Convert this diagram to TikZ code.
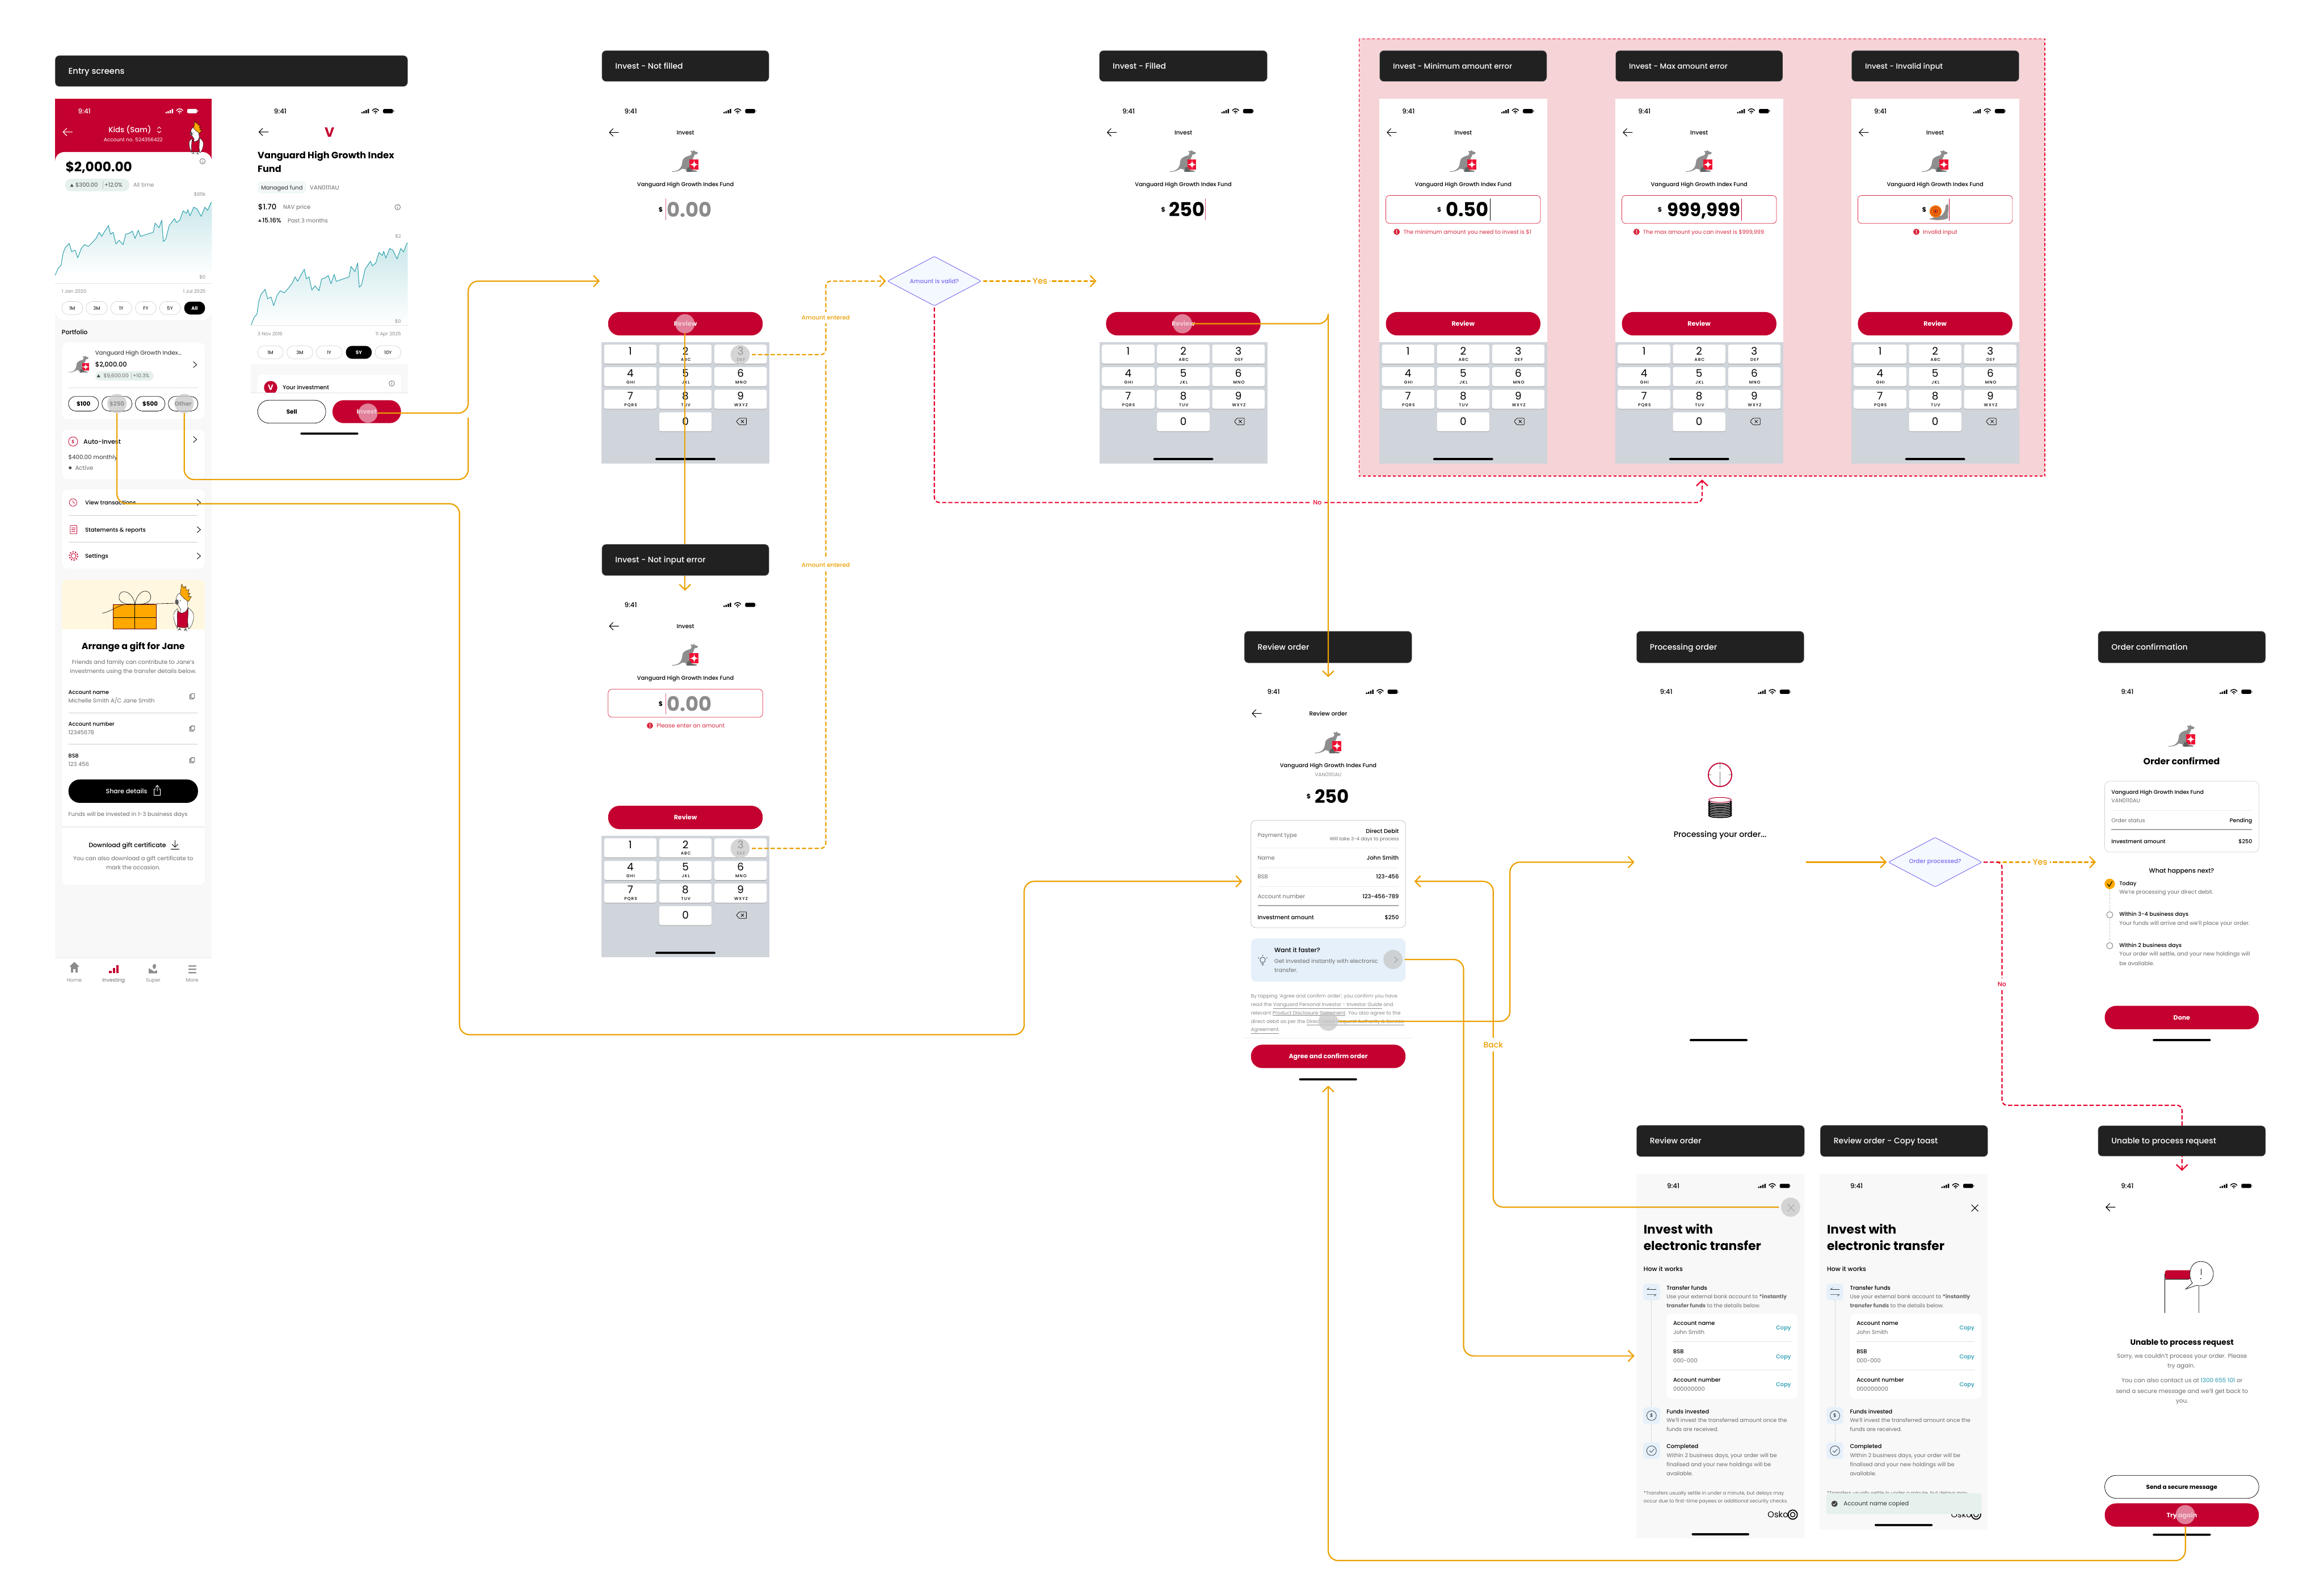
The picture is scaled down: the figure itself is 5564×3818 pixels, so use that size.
\documentclass[tikz,border=0pt]{standalone}
\usepackage{fontspec}
\usetikzlibrary{arrows.meta,shapes.geometric}
\setmainfont{Poppins}
\newfontface\medf{Poppins Medium}
\definecolor{hdrc}{HTML}{212121}
\definecolor{brandred}{HTML}{C3002F}
\definecolor{orng}{HTML}{EBA000}
\definecolor{dred}{HTML}{E8002D}
\definecolor{gtx}{HTML}{6A6A6A}
\definecolor{ltx}{HTML}{8A8A8A}
\definecolor{kbd}{HTML}{D0D4DB}
\definecolor{pinkbg}{HTML}{F5D3D6}
\definecolor{purp}{HTML}{7B6CF0}
\definecolor{diaf}{HTML}{F4F8FF}
\definecolor{tealc}{HTML}{1F97B0}
\definecolor{chartc}{HTML}{2BA0AC}
\definecolor{scrbg}{HTML}{F8F8F8}
\definecolor{errc}{HTML}{D8293F}
\definecolor{pillg}{HTML}{E6F1EE}
\definecolor{bluebx}{HTML}{E5F0FA}
\definecolor{roog}{HTML}{8E8E8E}
\definecolor{roor}{HTML}{EE1133}
\definecolor{rule}{HTML}{E4E4E4}
\definecolor{giftbg}{HTML}{FFF7DF}
\definecolor{cresto}{HTML}{FFA800}
\newcount\tcnt
\tikzset{
 tbase/.style={inner sep=0pt,outer sep=0pt,anchor=center,text=black},
 fs/.style={node font=\fontsize{#1}{#1}\selectfont,text height={#1*0.92},text depth={#1*0.2}},
 md/.style={font=\medf},
 bd/.style={font=\bfseries},
 lf/.style={anchor=west},
 rt/.style={anchor=east},
 gy/.style={text=gtx},
 lg/.style={text=ltx},
 hdrbox/.style={fill=hdrc,draw=gray!70,line width=.6pt,rounded corners=10pt,anchor=north west,inner sep=0pt,outer sep=0pt},
 tap/.style={circle,minimum size=46pt,inner sep=0pt,outer sep=0pt,fill=black!22,fill opacity=.75},
 tapr/.style={circle,minimum size=46pt,inner sep=0pt,outer sep=0pt,fill=white!70!brandred,fill opacity=.72},
 conn/.style={draw=orng,line width=3pt,rounded corners=24pt,-{Straight Barb[length=13pt,width=27pt,line width=3pt]}},
 connp/.style={draw=orng,line width=3pt,rounded corners=24pt},
 dconn/.style={draw=orng,line width=3pt,rounded corners=12pt,dash pattern=on 10pt off 5pt,-{Straight Barb[length=13pt,width=27pt,line width=3pt]}},
 dconnp/.style={draw=orng,line width=3pt,rounded corners=12pt,dash pattern=on 10pt off 5pt},
 rconn/.style={draw=dred,line width=3pt,rounded corners=12pt,dash pattern=on 10pt off 5pt,-{Straight Barb[length=13pt,width=27pt,line width=3pt]}},
 dia/.style={diamond,draw=purp,fill=diaf,line width=1.3pt,inner sep=0pt,outer sep=0pt,minimum width=224pt,minimum height=118pt,shape aspect=1.9,text=purp,rounded corners=3pt},
 lab/.style={fill=white,inner xsep=6pt,inner ysep=6pt,text=orng},
 ico/.style={line width=1.3pt,line cap=round,line join=round},
}
\newcommand\Tt[4][]{\global\advance\tcnt by 1 \node[tbase,#1] (t\the\tcnt) at ({#2},{#3}) {#4};}
\newcommand\Hdr[6][19]{\global\advance\tcnt by 1
 \node[hdrbox,minimum width={#4-#2},minimum height={#5-#3}] (h\the\tcnt) at (#2,#3) {};
 \Tt[fs=#1,md,lf,text=white]{#2+32}{(#3+#5)/2}{#6}}
\newcommand\Stat[4][black]{\Tt[fs=16,md,text=#1]{#2}{#3}{9:41}
 \begin{scope}[shift={(#4,#3)}]
  \fill[#1] (0,2) rectangle (3.4,5) (5,0) rectangle (8.4,5) (10,-2.5) rectangle (13.4,5) (15,-5) rectangle (18.4,5);
  \draw[#1,line width=2pt] (26,-1) .. controls (30,-7) and (38,-7) .. (42,-1) (29.5,2) .. controls (32,-1) and (36,-1) .. (38.5,2);
  \fill[#1] (34,4.5) circle (1.8);
  \fill[#1,rounded corners=3pt] (52,-5) rectangle (76,5);
  \fill[#1!50!white] (77,-2) rectangle (78.5,2);
 \end{scope}}
\newcommand\Back[3][black]{\begin{scope}[shift={(#2,#3)}]\draw[#1,ico,line width=1.5pt] (11,0) -- (-11,0) (-2,-9) -- (-11,0) -- (-2,9);\end{scope}}
\newcommand\Chev[2]{\draw[black,ico,line width=1.2pt] (#1-4,#2-7) -- (#1+4,#2) -- (#1-4,#2+7);}
\newcommand\Info[2]{\begin{scope}[shift={(#1,#2)}]\draw[gtx,line width=1.1pt] (0,0) circle (6.5);\draw[gtx,line width=1.2pt] (0,-.5) -- (0,3.5);\fill[gtx] (0,-3) circle (.8);\end{scope}}
\newcommand\Copyic[2]{\begin{scope}[shift={(#1,#2)}]\draw[black!80,line width=1pt,rounded corners=1pt] (-3,-6) rectangle (6,4);\draw[black!80,line width=1pt,rounded corners=1pt] (-3,-3.5) -- (-6,-3.5) -- (-6,6.5) -- (3,6.5) -- (3,4);\end{scope}}
\newcommand\Roo[3]{\begin{scope}[shift={(#1,#2)},scale=#3]
 \fill[roog] (-32,23) .. controls (-24,23) and (-18,21) .. (-14,17) .. controls (-9,12) and (-8,6) .. (-7,-3) .. controls (-5,-9) and (2,-13) .. (12,-15) -- (15,-20) -- (12,-26) -- (18,-25) -- (20,-28) -- (22,-25) -- (30,-22) -- (28,-18) -- (22,-17) -- (18,-7) -- (14,-3) -- (14,16) -- (3,24) -- (0,18) -- (-8,17) .. controls (-12,21) and (-20,24) .. (-32,24.5) -- cycle;
 \fill[roor] (10,-5) rectangle (31,19);
 \fill[white] (21,-5) .. controls (21,3) and (23,6) .. (31,7) .. controls (23,8) and (21,11) .. (21,19) .. controls (21,11) and (19,8) .. (10,7) .. controls (19,6) and (21,3) .. (21,-5) -- cycle;
 \fill[roog!70!black] (5,14) -- (12,14) -- (15,20) -- (27,22) -- (27,24) -- (3,24.5) -- cycle;
 \end{scope}}
\newcommand\Cocka[3]{\begin{scope}[shift={(#1,#2)},scale=#3]
 \draw[black,line width=.6pt,fill=white] (-10.7,1.7) .. controls (-16,6) and (-18,10) .. (-17.4,14) .. controls (-17,22) and (-14,30) .. (-11,35) -- (-8,20) -- cycle;
 \draw[black,line width=.6pt,fill=white] (7,0) .. controls (14,4) and (17,9) .. (16.7,14) .. controls (17,22) and (14,32) .. (8.3,36) -- (6,20) -- cycle;
 \draw[black,line width=.6pt,fill=white] (-5,3) .. controls (-9,-3) and (-13,-8) .. (-13,-14) .. controls (-13,-22) and (-8,-26) .. (-3,-26) .. controls (3,-26) and (6,-18) .. (7,0) -- (6,12) -- (-7,12) -- cycle;
 \draw[black,line width=.6pt,fill=cresto] (-6,-22.6) -- (-4.8,-33) -- (-3.6,-40.5) -- (0,-34) -- (3,-37) -- (4.3,-30) -- (9,-31) -- (7,-24) -- (10.7,-25) -- (8,-19) -- (13,-19) -- (8,-10.7) -- (1,-15.5) -- cycle;
 \draw[black,line width=.6pt,fill=brandred] (-10,5) .. controls (-8,9) and (-3,10) .. (-1,8.5) .. controls (3,8) and (6,4) .. (7,0) .. controls (8,10) and (6,25) .. (6.7,33) .. controls (1,35) and (-6,34) .. (-11.4,32) .. controls (-11,22) and (-12,12) .. (-10,5) -- cycle;
 \fill[black!65] (-15,-11) .. controls (-14,-15) and (-11,-15) .. (-9.5,-13) .. controls (-8,-8) and (-9,-5) .. (-12,-5) .. controls (-14,-7) and (-15,-8) .. (-15,-11) -- cycle;
 \fill[black] (-6,-12) circle (.8);
 \fill[black!65] (-11.4,40) -- (-7,34) -- (-4,39) -- (-6.5,37.5) -- (-9,38) -- cycle (0,40) -- (3,34) -- (6.4,41) -- (3.5,38) -- cycle;
 \end{scope}}
\newcommand\Btn[5]{\path[fill=brandred,rounded corners=27pt] (#1,#2) rectangle (#3,#4);\Tt[fs=15,bd,text=white]{(#1+#3)/2}{(#2+#4)/2}{#5}}
\newcommand\OBtn[6]{\path[draw=black,line width=1pt,fill=white,rounded corners=#5] (#1,#2) rectangle (#3,#4);\Tt[fs=14,bd]{(#1+#3)/2}{(#2+#4)/2}{#6}}
\newcommand\Home[3]{\fill[black,rounded corners=2pt] (#1,#3-2.5) rectangle (#2,#3+2.5);}
\newcommand\KeyPad{%
 \fill[kbd] (0,583) rectangle (402,874);
 \foreach \cx/\ry/\d/\l in {0/0/1/{},1/0/2/ABC,2/0/3/DEF,0/1/4/GHI,1/1/5/JKL,2/1/6/MNO,0/2/7/PQRS,1/2/8/TUV,2/2/9/WXYZ}{%
  \pgfmathsetmacro\kx{6+132*\cx}\pgfmathsetmacro\ky{589+54*\ry}
  \fill[black!45,rounded corners=5pt] (\kx,\ky+1) rectangle (\kx+126,\ky+47);
  \fill[white,rounded corners=5pt] (\kx,\ky) rectangle (\kx+126,\ky+46);
  \Tt[fs=25]{\kx+63}{\ky+15}{\d}
  \Tt[fs=10,md]{\kx+64}{\ky+36}{\addfontfeatures{LetterSpace=14}\l}
 }
 \fill[black!45,rounded corners=5pt] (138,752) rectangle (264,798);
 \fill[white,rounded corners=5pt] (138,751) rectangle (264,797);
 \Tt[fs=25]{201}{773}{0}
 \begin{scope}[shift={(335,773)}]\draw[black,line width=1pt,rounded corners=1.5pt,line join=round] (-12,0) -- (-5,-8) -- (12,-8) -- (12,8) -- (-5,8) -- cycle;\draw[black,line width=1pt] (-1,-3.5) -- (6,3.5) (6,-3.5) -- (-1,3.5);\end{scope}
 \Home{129}{273}{863}
}
\newcommand\InvScr[3]{\begin{scope}[shift={(#1,#2)}]
 \ifx#31\fill[white] (0,0) rectangle (402,874);\fi
 \Stat{70}{30}{292}
 \Back{30}{81}
 \Tt[fs=14,md]{201}{81}{Invest}
 \Roo{201}{151}{1}
 \Tt[fs=13.4,md]{201}{205}{Vanguard High Growth Index Fund}
 \Btn{16}{511}{386}{567}{Review}
 \KeyPad
 \end{scope}}
\newcommand\Field{\path[draw=errc,line width=1pt,fill=white,rounded corners=9pt] (16,232) rectangle (386,299);}
\newcommand\ErrIc[2]{\begin{scope}[shift={(#1,#2)}]\fill[errc] (0,0) circle (7.5);\fill[white] (-1,-5) rectangle (1,1.5);\fill[white] (0,3.8) circle (1.2);\end{scope}}
\newcommand\chartpath{(0,0) -- (12,-24) -- (22,-32) -- (30,-72) -- (38,-90) -- (53,-104) -- (62,-77) -- (75,-82) -- (85,-57) -- (98,-87) -- (110,-100) -- (125,-94) -- (140,-107) -- (155,-122) -- (165,-140) -- (175,-127) -- (185,-142) -- (200,-162) -- (208,-134) -- (218,-140) -- (228,-102) -- (240,-114) -- (255,-100) -- (265,-134) -- (278,-137) -- (290,-144) -- (300,-120) -- (312,-147) -- (320,-127) -- (345,-134) -- (368,-140) -- (375,-170) -- (390,-155) -- (400,-180) -- (406,-110) -- (415,-117) -- (428,-162) -- (448,-185) -- (455,-172) -- (468,-180) -- (480,-210) -- (493,-202) -- (498,-214) -- (506,-194) -- (520,-222) -- (532,-217) -- (548,-192) -- (562,-222) -- (572,-212) -- (585,-237) -- (588,-237)}
\newcommand\ChartG[3]{\begin{scope}[shift={(#1,#2)},xscale=.638,yscale=#3]
 \path[shade,top color=chartc!25!white,bottom color=white] \chartpath -- (588,0) -- cycle;
 \draw[chartc,line width=1.4pt,line join=round] \chartpath;
 \end{scope}}
\newcommand\XferScr[1]{\begin{scope}[shift={(#1,0)}]
 \fill[scrbg] (0,2810) rectangle (402,\xfb);
 \Stat{88}{2839}{291}
 \Tt[fs=29.5,bd,lf]{17}{2943}{Invest with}
 \Tt[fs=29.5,bd,lf]{17}{2982}{electronic transfer}
 \Tt[fs=15,md,lf]{17}{3038}{How it works}
 \draw[black!30,line width=1.2pt,dotted] (36,3113) -- (36,3369) (36,3409) -- (36,3453);
 \fill[bluebx,rounded corners=8pt] (16,3073) rectangle (56,3113) (16,3369) rectangle (56,3409) (16,3453) rectangle (56,3493);
 \draw[black!80,line width=.9pt] (25,3087) -- (47,3087) (25,3087) -- (30,3083) (25,3099) -- (47,3099) (47,3099) -- (42,3103);
 \draw[black!80,line width=1pt] (36,3389) circle (11.5);
 \Tt[fs=11]{36}{3389}{\$}
 \draw[black!80,line width=1pt] (36,3473) circle (11.5);
 \draw[black!80,line width=1pt] (31,3473) -- (35,3477) -- (42,3469);
 \Tt[fs=13.4,md,lf]{72}{3083}{Transfer funds}
 \Tt[fs=12.8,lf,gy]{72}{3104}{Use your external bank account to \textbf{*instantly}}
 \Tt[fs=12.8,lf,gy]{72}{3126}{\textbf{transfer funds} to the details below.}
 \fill[white,rounded corners=12pt] (72,3145) rectangle (386,3349);
 \Tt[fs=13.4,md,lf]{88}{3168}{Account name}
 \Tt[fs=13.4,lf,gy]{88}{3189}{John Smith}
 \Tt[fs=13.4,md,rt,text=tealc]{370}{3179}{Copy}
 \draw[rule,line width=.8pt] (88,3212) -- (370,3212);
 \Tt[fs=13.4,md,lf]{88}{3236}{BSB}
 \Tt[fs=13.4,lf,gy]{88}{3257}{000-000}
 \Tt[fs=13.4,md,rt,text=tealc]{370}{3248}{Copy}
 \draw[rule,line width=.8pt] (88,3280) -- (370,3280);
 \Tt[fs=13.4,md,lf]{88}{3304}{Account number}
 \Tt[fs=13.4,lf,gy]{88}{3325}{000000000}
 \Tt[fs=13.4,md,rt,text=tealc]{370}{3315}{Copy}
 \Tt[fs=13.4,md,lf]{72}{3379}{Funds invested}
 \Tt[fs=13,lf,gy]{72}{3400}{We'll invest the transferred amount once the}
 \Tt[fs=13,lf,gy]{72}{3422}{funds are received.}
 \Tt[fs=13.4,md,lf]{72}{3463}{Completed}
 \Tt[fs=13,lf,gy]{72}{3484}{Within 2 business days, your order will be}
 \Tt[fs=13,lf,gy]{72}{3506}{finalised and your new holdings will be}
 \Tt[fs=13,lf,gy]{72}{3528}{available.}
 \Tt[fs=11.5,lf,gy]{17}{3574}{*Transfers usually settle in under a minute, but delays may}
 \Tt[fs=20,lf]{314}{3626}{Osko}
 \draw[black,line width=2.4pt] (374,3626) circle (11);
 \draw[black,line width=1.8pt] (374,3626) circle (5.5);
 \end{scope}}
\begin{document}
\begin{tikzpicture}[x=1pt,y=-1pt]
\useasboundingbox (0,0) rectangle (5564,3818);
\fill[white] (0,0) rectangle (5564,3818);
% ---- pink error group
\path[fill=pinkbg,draw=dred,line width=2.5pt,dash pattern=on 7pt off 5pt] (3254,93) rectangle (4896,1140);
% ---- entry screens
\Hdr[20]{132}{133}{976}{207}{Entry screens}
\fill[scrbg] (132,236) rectangle (507,2380);
\fill[brandred] (132,236) rectangle (507,400);
\path[fill=white,rounded corners=22pt] (132,364) rectangle (507,766);
\Stat[white]{202}{266}{396}
\Back[white]{162}{316}
\Tt[fs=18,md,text=white]{311}{311}{Kids (Sam)}
\draw[white,ico] (377,308) -- (381,304) -- (385,308) (377,314) -- (381,318) -- (385,314);
\Tt[fs=12,text=white]{319}{335}{Account no. 524356422}
\Cocka{470}{330}{1}
\Info{485}{386}
\Tt[fs=31.5,bd,lf]{157}{400}{\$2,000.00}
\path[fill=pillg,rounded corners=14pt] (156,428) rectangle (310,458);
\fill[black!70] (172,440) -- (176,447) -- (168,447) -- cycle;
\Tt[fs=13.5,lf,text=black!70]{181}{443}{\$300.00}
\draw[black!25,line width=.7pt] (246,433) -- (246,453);
\Tt[fs=13.5,lf,text=black!70]{250}{443}{+12.0\%}
\Tt[fs=13.5,lf,lg]{319}{443}{All time}
\Tt[fs=11.5,rt,lg]{492}{465}{\$85k}
\ChartG{132}{659}{.734}
\Tt[fs=11.5,rt,lg]{492}{663}{\$0}
\draw[rule,line width=.8pt] (132,678) -- (507,678);
\Tt[fs=11.5,lf,lg]{148}{698}{1 Jan 2020}
\Tt[fs=11.5,rt,lg]{492}{698}{1 Jul 2025}
\foreach \a/\b/\s in {148/198/1M,206/257/3M,265/316/1Y,324/374/FY,382/432/5Y}{
 \path[draw=black!20,line width=.8pt,rounded corners=15pt] (\a,722) rectangle (\b,753);
 \Tt[fs=11.5]{(\a+\b)/2}{738}{\s}}
\path[fill=black,rounded corners=15pt] (441,722) rectangle (491,753);
\Tt[fs=11.5,bd,text=white]{466}{738}{All}
\Tt[fs=15,md,lf]{148}{796}{Portfolio}
\path[fill=white,draw=black!5,rounded corners=14pt] (148,819) rectangle (491,1004);
\Roo{189}{873}{.77}
\Tt[fs=13.8,lf,text=black!85]{228}{845}{Vanguard High Growth Index...}
\Tt[fs=15.5,md,lf]{228}{873}{\$2,000.00}
\path[fill=pillg,rounded corners=11pt] (228,889) rectangle (368,911);
\Tt[fs=12.5,lf,gy]{248}{900}{\$9,600.00}
\draw[black!25,line width=.6pt] (314,892) -- (314,908);
\Tt[fs=12.5,lf,gy]{318}{900}{+10.3\%}
\fill[black!70] (236,896) -- (240,903) -- (232,903) -- cycle;
\Chev{467}{873}
\draw[black!25,line width=.7pt,dotted] (164,928) -- (474,928);
\OBtn{164}{949}{236}{984}{17pt}{\$100}
\OBtn{244}{949}{316}{984}{17pt}{\$250}
\OBtn{324}{949}{395}{984}{17pt}{\$500}
\OBtn{403}{949}{474}{984}{17pt}{Other}
\node[tap] (tapA) at (280,966) {};
\node[tap] (tapO) at (441,966) {};
\path[fill=white,draw=black!5,rounded corners=14pt] (148,1028) rectangle (491,1148);
\draw[brandred,line width=1.2pt] (175,1057) circle (11);
\Tt[fs=11,md,text=brandred]{175}{1057}{\$}
\Tt[fs=15,md,lf]{200}{1057}{Auto-Invest}
\Chev{467}{1052}
\Tt[fs=14,lf,text=black!80]{164}{1095}{\$400.00 monthly}
\fill[black!70] (168,1120) circle (3.5);
\Tt[fs=14,lf,gy]{180}{1120}{Active}
\path[fill=white,draw=black!5,rounded corners=14pt] (148,1171) rectangle (491,1362);
\draw[brandred,line width=1.1pt] (175,1203) circle (9);
\draw[brandred,line width=1.1pt] (175,1198) -- (175,1203) -- (179,1205);
\Tt[fs=13.5,md,lf]{204}{1203}{View transactions}
\Chev{476}{1203}
\draw[black!20,line width=.7pt] (164,1234) -- (474,1234);
\path[draw=brandred,line width=1.1pt,rounded corners=1.5pt] (168,1258) rectangle (184,1278);
\draw[brandred,line width=.8pt] (171,1264) -- (181,1264) (171,1268) -- (181,1268) (171,1272) -- (181,1272);
\Tt[fs=13.5,md,lf]{204}{1268}{Statements \& reports}
\Chev{476}{1268}
\draw[black!20,line width=.7pt] (164,1298) -- (474,1298);
\draw[brandred,line width=1.2pt] (176,1331) circle (6);
\draw[brandred,line width=2.5pt,dash pattern=on 3pt off 3.3pt] (176,1331) circle (10);
\Tt[fs=13.5,md,lf]{204}{1331}{Settings}
\Chev{476}{1331}
% gift
\path[fill=white,draw=black!5,rounded corners=14pt] (148,1388) rectangle (491,2119);
\path[fill=giftbg,rounded corners=14pt] (148,1388) rectangle (491,1440);
\fill[giftbg] (148,1410) rectangle (491,1506);
\path[draw=black!60!red,fill=cresto,line width=1pt] (271,1447) rectangle (374,1506);
\draw[black,line width=.8pt] (323,1447) -- (323,1506) (271,1478) -- (374,1478);
\draw[black,line width=.8pt] (323,1446) .. controls (316,1412) and (285,1408) .. (285,1430) .. controls (285,1446) and (310,1448) .. (323,1446) .. controls (330,1408) and (361,1408) .. (361,1430) .. controls (361,1446) and (335,1448) .. (323,1446);
\draw[black,line width=.8pt] (245,1468) .. controls (275,1462) and (285,1442) .. (320,1447) -- (422,1444);
\Cocka{440}{1455}{1.4}
\Tt[fs=21.5,bd]{319}{1547}{Arrange a gift for Jane}
\Tt[fs=13.6,gy]{319}{1585}{Friends and family can contribute to Jane's}
\Tt[fs=13.6,gy]{319}{1607}{investments using the transfer details below.}
\Tt[fs=13,md,lf]{164}{1657}{Account name}
\Tt[fs=13.5,lf,gy]{164}{1678}{Michelle Smith A/C Jane Smith}
\Copyic{460}{1667}
\draw[black!20,line width=.7pt] (164,1706) -- (474,1706);
\Tt[fs=13,md,lf]{164}{1733}{Account number}
\Tt[fs=13.5,lf,gy]{164}{1754}{12345678}
\Copyic{460}{1744}
\draw[black!20,line width=.7pt] (164,1781) -- (474,1781);
\Tt[fs=13,md,lf]{164}{1809}{BSB}
\Tt[fs=13.5,lf,gy]{164}{1830}{123 456}
\Copyic{460}{1820}
\path[fill=black,rounded corners=27pt] (164,1866) rectangle (474,1922);
\Tt[fs=15,md,text=white]{303}{1894}{Share details}
\draw[white,line width=1.2pt] (369,1889) -- (369,1904) -- (384,1904) -- (384,1889) -- (380,1889) (373,1889) -- (369,1889) (376.5,1894) -- (376.5,1880) (372,1885) -- (376.5,1880) -- (381,1885);
\Tt[fs=13.5,lf,gy]{164}{1949}{Funds will be invested in 1-3 business days}
\draw[black!15,line width=.7pt] (148,1979) -- (491,1979);
\Tt[fs=15,md]{305}{2023}{Download gift certificate}
\draw[black,line width=1.2pt] (419,2012) -- (419,2028) (412,2021) -- (419,2028) -- (426,2021) (409,2033) -- (429,2033);
\Tt[fs=13.6,gy]{319}{2055}{You can also download a gift certificate to}
\Tt[fs=13.6,gy]{319}{2077}{mark the occasion.}
\fill[white] (132,2293) rectangle (507,2380);
\draw[black!8,line width=.7pt] (132,2293) -- (507,2293);
\fill[black!45] (178,2303) -- (190,2314) -- (186,2314) -- (186,2328) -- (181,2328) -- (181,2320) -- (175,2320) -- (175,2328) -- (170,2328) -- (170,2314) -- (166,2314) -- cycle;
\fill[brandred] (261,2324) rectangle (267,2330);
\fill[brandred] (270,2318) rectangle (276,2330);
\fill[brandred] (279,2310) rectangle (284,2330);
\fill[black!45] (356,2318) -- (370,2326) -- (376,2322) -- (376,2330) -- (356,2330) -- cycle (368,2320) .. controls (362,2310) and (368,2308) .. (372,2308) .. controls (375,2312) and (373,2320) .. (368,2320) -- cycle;
\fill[black!45,rounded corners=1pt] (451,2311) rectangle (470,2314) (451,2319) rectangle (470,2322) (451,2327) rectangle (470,2330);
\Tt[fs=12,lg]{178}{2347}{Home}
\Tt[fs=12,gy]{272}{2347}{Investing}
\Tt[fs=12,lg]{367}{2347}{Super}
\Tt[fs=12,lg]{460}{2347}{More}
% second entry screen
\Stat{671}{266}{865}
\Back{631}{316}
\Tt[fs=32,bd,text=brandred]{789}{316}{V}
\Tt[fs=22,bd,lf]{617}{372}{Vanguard High Growth Index}
\Tt[fs=22,bd,lf]{617}{404}{Fund}
\path[fill=pillg!80!teal!20,rounded corners=7pt] (617,435) rectangle (733,463);
\Tt[fs=13.5,text=black!80]{675}{449}{Managed fund}
\Tt[fs=14,lf,gy]{742}{449}{VAN0111AU}
\Tt[fs=18,md,lf]{618}{495}{\$1.70}
\Tt[fs=13.5,lf,gy]{678}{496}{NAV price}
\Info{952}{496}
\fill[black!70] (622,524) -- (626,531) -- (618,531) -- cycle;
\Tt[fs=15,md,lf]{628}{528}{15.16\%}
\Tt[fs=13.5,lf,gy]{689}{528}{Past 3 months}
\Tt[fs=11.5,rt,lg]{960}{566}{\$2}
\ChartG{601}{779}{.83}
\Tt[fs=11.5,rt,lg]{960}{769}{\$0}
\draw[rule,line width=.8pt] (601,779) -- (976,779);
\Tt[fs=11.5,lf,lg]{617}{799}{3 Nov 2016}
\Tt[fs=11.5,rt,lg]{960}{799}{11 Apr 2025}
\foreach \a/\b/\s in {617/678/1M,687/749/3M,757/819/1Y,898/960/10Y}{
 \path[draw=black!20,line width=.8pt,rounded corners=15pt] (\a,828) rectangle (\b,859);
 \Tt[fs=11.5]{(\a+\b)/2}{844}{\s}}
\path[fill=black,rounded corners=15pt] (828,828) rectangle (890,859);
\Tt[fs=11.5,bd,text=white]{859}{844}{5Y}
\fill[scrbg] (601,872) rectangle (976,941);
\begin{scope}
 \clip (601,872) rectangle (976,941);
 \path[fill=white,rounded corners=10pt] (617,897) rectangle (960,975);
 \fill[brandred] (648,928) circle (16);
 \Tt[fs=18,bd,text=white]{648}{928}{V}
\end{scope}
\Tt[fs=13.5,md,lf]{677}{927}{Your investment}
\Info{938}{918}
\draw[black!12,line width=.7pt] (601,941) -- (976,941);
\OBtn{617}{958}{780}{1013}{27pt}{Sell}
\Btn{796}{958}{960}{1013}{Invest}
\node[tapr] (tapInv) at (881,989) {};
\Home{719}{858}{1038}
% ---- invest screens
\Hdr{1441}{121}{1841}{195}{Invest - Not filled}
\InvScr{1440}{236}{0}
\Tt[fs=15,bd]{1582}{502}{\$}
\Tt[fs=48,bd,text=black!45]{1651}{502}{0.00}
\draw[brandred!60,line width=1pt] (1594,475) -- (1594,527);
\node[tapr] (tapNF) at (1640,775) {};
\node[tap] (tap3a) at (1772,849) {};
\Hdr{2632}{121}{3034}{195}{Invest - Filled}
\InvScr{2632}{236}{0}
\Tt[fs=15,bd]{2785}{502}{\$}
\Tt[fs=46,bd]{2842}{502}{250}
\draw[brandred!70,line width=1pt] (2886,475) -- (2886,527);
\node[tapr] (tapF) at (2831,775) {};
% not input error
\InvScr{1440}{1418}{0}
\begin{scope}[shift={(1440,1418)}]
 \Field
 \Tt[fs=15,bd]{142}{267}{\$}
 \Tt[fs=48,bd,text=black!45]{211}{267}{0.00}
 \draw[brandred!60,line width=1pt] (154,242) -- (154,292);
 \ErrIc{116}{319}
 \Tt[fs=13.6,lf,text=errc]{132}{319}{Please enter an amount}
\end{scope}
\node[tap] (tap3b) at (1772,2031) {};
% error screens
\Hdr[18]{3303}{121}{3703}{195}{Invest - Minimum amount error}
\Hdr[18]{3868}{121}{4268}{195}{Invest - Max amount error}
\Hdr[18]{4433}{121}{4834}{195}{Invest - Invalid input}
\InvScr{3302}{236}{1}
\InvScr{3867}{236}{1}
\InvScr{4432}{236}{1}
\begin{scope}[shift={(3302,236)}]
 \Field
 \Tt[fs=15,bd]{144}{266}{\$}
 \Tt[fs=46,bd]{211}{266}{0.50}
 \draw[black,line width=1pt] (266,240) -- (266,292);
 \ErrIc{42}{319}
 \Tt[fs=13.4,lf,text=errc]{58}{319}{The minimum amount you need to invest is \$1}
\end{scope}
\begin{scope}[shift={(3867,236)}]
 \Field
 \Tt[fs=15,bd]{107}{266}{\$}
 \Tt[fs=44,bd]{212}{266}{999,999}
 \draw[brandred,line width=1pt] (303,240) -- (303,292);
 \ErrIc{51}{319}
 \Tt[fs=13.2,lf,text=errc]{67}{319}{The max amount you can invest is \$999,999}
\end{scope}
\begin{scope}[shift={(4432,236)}]
 \Field
 \Tt[fs=15,bd]{175}{266}{\$}
 \fill[black!45] (186,288) .. controls (200,292) and (222,292) .. (232,286) .. controls (230,270) and (236,260) .. (231,252) -- (226,256) .. controls (226,270) and (220,276) .. (216,280) -- cycle;
 \fill[orange!85!red] (202,270) circle (14.5);
 \draw[brown!70!black,line width=1pt] (202,270) circle (10);
 \draw[red!70!black,line width=1pt] (202,270) circle (5);
 \fill[blue!40!black] (202,270) circle (2);
 \draw[brandred,line width=1pt] (234,240) -- (234,292);
 \ErrIc{156}{319}
 \Tt[fs=13.4,lf,text=errc]{172}{319}{Invalid input}
\end{scope}
% ---- review order
\Hdr{2979}{1511}{3380}{1587}{Review order}
\Stat{3049}{1656}{3270}
\Back{3009}{1708}
\Tt[fs=14,md]{3180}{1709}{Review order}
\Roo{3180}{1779}{1}
\Tt[fs=13.4,md]{3180}{1832}{Vanguard High Growth Index Fund}
\Tt[fs=12,lg]{3180}{1854}{VAN0110AU}
\Tt[fs=15,bd]{3133}{1907}{\$}
\Tt[fs=44,bd]{3189}{1907}{250}
\path[draw=black!25,line width=1pt,rounded corners=12pt] (2995,1964) rectangle (3365,2221);
\Tt[fs=13.5,lf,gy]{3011}{1999}{Payment type}
\Tt[fs=13.5,md,rt]{3349}{1990}{Direct Debit}
\Tt[fs=11.5,rt,gy]{3349}{2008}{Will take 3-4 days to process}
\draw[black!8,line width=1pt] (3011,2030) -- (3349,2030) (3011,2077) -- (3349,2077) (3011,2122) -- (3349,2122);
\Tt[fs=13.5,lf,gy]{3011}{2054}{Name}
\Tt[fs=13.5,md,rt]{3349}{2054}{John Smith}
\Tt[fs=13.5,lf,gy]{3011}{2099}{BSB}
\Tt[fs=13.5,md,rt]{3349}{2099}{123-456}
\Tt[fs=13.5,lf,gy]{3011}{2146}{Account number}
\Tt[fs=13.5,md,rt]{3349}{2146}{123-456-789}
\draw[black!35,line width=1.5pt] (3011,2168) -- (3349,2168);
\Tt[fs=13.5,md,lf]{3011}{2196}{Investment amount}
\Tt[fs=13.5,md,rt]{3349}{2196}{\$250}
\path[fill=bluebx,rounded corners=12pt] (2995,2247) rectangle (3365,2350);
\draw[black!80,line width=1pt] (3023,2298) circle (6.5);
\draw[black!80,line width=1pt] (3020,2307) -- (3026,2307) (3021,2310) -- (3025,2310) (3012,2292) -- (3014,2294) (3034,2292) -- (3032,2294) (3023,2286) -- (3023,2289);
\Tt[fs=15,md,lf]{3051}{2275}{Want it faster?}
\Tt[fs=13.5,lf,gy]{3051}{2301}{Get invested instantly with electronic}
\Tt[fs=13.5,lf,gy]{3051}{2323}{transfer.}
\Chev{3342}{2298}
\node[tap] (tapW) at (3335,2297) {};
\Tt[fs=11.8,lf,lg]{2995}{2385}{By tapping 'Agree and confirm order', you confirm you have}
\Tt[fs=11.8,lf,lg]{2995}{2405}{read the \underline{Vanguard Personal Investor - Investor Guide} and}
\Tt[fs=11.8,lf,lg]{2995}{2425}{relevant \underline{Product Disclosure Statement}. You also agree to the}
\Tt[fs=11.8,lf,lg]{2995}{2445}{direct debit as per the \underline{Direct Debit Request Authority \& Service}}
\Tt[fs=11.8,lf,lg]{2995}{2465}{\underline{Agreement}.}
\draw[black!8,line width=.7pt] (2979,2485) -- (3380,2485);
\node[tap] (tapL) at (3180,2445) {};
\Btn{2995}{2501}{3365}{2557}{Agree and confirm order}
\Home{3110}{3249}{2584}
% ---- processing
\Hdr{3918}{1511}{4319}{1587}{Processing order}
\Stat{3989}{1656}{4209}
\draw[brandred,line width=2.5pt,fill=white] (4118,1855) circle (28);
\draw[black!55,line width=1pt] (4118,1827) -- (4118,1840) (4118,1848) -- (4118,1883) (4090,1855) -- (4097,1855) (4139,1855) -- (4146,1855);
\foreach \yy in {1952,1948,1944,1940,1936,1932,1928,1924,1920}{\draw[black,line width=2.6pt,fill=white] (4118,\yy) ellipse (27 and 5);}
\draw[brandred,line width=1.5pt,fill=white] (4118,1915) ellipse (27 and 6);
\Tt[fs=19,md]{4118}{1997}{Processing your order...}
\Home{4045}{4184}{2490}
\coordinate (procOut) at (4324,2064);
\node[dia] (dia2) at (4633,2064) {\fontsize{14}{16}\selectfont\medf Order processed?};
\node[dia] (dia1) at (2237,673) {\fontsize{14}{16}\selectfont\medf Amount is valid?};
% ---- confirmation
\Hdr{5023}{1511}{5424}{1587}{Order confirmation}
\Stat{5093}{1656}{5314}
\Roo{5224}{1763}{1}
\Tt[fs=21.5,bd]{5223}{1823}{Order confirmed}
\path[draw=black!18,line width=1pt,rounded corners=12pt] (5039,1870) rectangle (5408,2040);
\Tt[fs=12.8,md,lf]{5055}{1896}{Vanguard High Growth Index Fund}
\Tt[fs=13,lf,gy]{5055}{1917}{VAN0110AU}
\draw[black!8,line width=1pt] (5055,1940) -- (5392,1940);
\Tt[fs=13,lf,gy]{5055}{1964}{Order status}
\Tt[fs=13,md,rt]{5392}{1964}{Pending}
\draw[black!35,line width=1.5pt] (5055,1986) -- (5392,1986);
\Tt[fs=13,md,lf]{5055}{2014}{Investment amount}
\Tt[fs=13,md,rt]{5392}{2014}{\$250}
\Tt[fs=15,md]{5223}{2085}{What happens next?}
\draw[black!35,line width=1.2pt,dotted] (5051,2128) -- (5051,2180) (5051,2200) -- (5051,2254);
\fill[cresto] (5051,2116) circle (12.5);
\draw[black,line width=1.5pt] (5045,2116) -- (5050,2122) -- (5057,2110);
\draw[black!45,line width=1.4pt,fill=white] (5051,2190) circle (7.5);
\draw[black!45,line width=1.4pt,fill=white] (5051,2264) circle (7.5);
\Tt[fs=13,md,lf]{5074}{2115}{Today}
\Tt[fs=13,lf,gy]{5074}{2136}{We're processing your direct debit.}
\Tt[fs=13,md,lf]{5074}{2189}{Within 3-4 business days}
\Tt[fs=13.2,lf,gy]{5074}{2210}{Your funds will arrive and we'll place your order.}
\Tt[fs=13,md,lf]{5074}{2263}{Within 2 business days}
\Tt[fs=13.2,lf,gy]{5074}{2284}{Your order will settle, and your new holdings will}
\Tt[fs=13,lf,gy]{5074}{2306}{be available.}
\Btn{5039}{2408}{5408}{2464}{Done}
\Home{5154}{5293}{2490}
% ---- transfer screens
\Hdr{3918}{2694}{4320}{2769}{Review order}
\Hdr{4358}{2694}{4759}{2769}{Review order - Copy toast}
\def\xfb{3683}\XferScr{3918}
\Tt[fs=11.5,lf,gy]{3935}{3594}{occur due to first-time payees or additional security checks.}
\draw[black!70,line width=1.4pt] (4280,2883) -- (4296,2900) (4296,2883) -- (4280,2900);
\node[tap] (tapX) at (4287,2890) {};
\Home{4050}{4188}{3673}
\def\xfb{3662}\XferScr{4357}
\draw[black,line width=1.4pt] (4720,2884) -- (4736,2900) (4736,2884) -- (4720,2900);
\path[fill=pillg,rounded corners=6pt] (4372,3575) rectangle (4744,3625);
\fill[black!75] (4392,3600) circle (7.5);
\draw[white,line width=1pt] (4388,3600) -- (4391,3603) -- (4396,3597);
\Tt[fs=14,lf,text=black!80]{4414}{3600}{Account name copied}
\Home{4488}{4627}{3651}
% ---- unable
\Stat{5093}{2839}{5314}
\Back{5053}{2890}
\path[fill=brandred,rounded corners=5pt] (5183,3062) -- (5183,3041) -- (5250,3041) -- (5250,3062) -- cycle;
\draw[black,line width=1pt] (5183,3143) -- (5183,3049) (5183,3062) -- (5241,3062);
\draw[black!70,line width=1pt] (5264,3080) -- (5264,3143);
\draw[black,line width=1pt,fill=white] (5249,3072) .. controls (5238,3058) and (5240,3020) .. (5269,3020) .. controls (5295,3020) and (5300,3045) .. (5299,3050) .. controls (5298,3075) and (5275,3081) .. (5259,3077) -- (5233,3086) -- (5245,3075) -- cycle;
\draw[black,line width=1pt] (5269,3037) -- (5269,3052);
\fill[black] (5269,3061) circle (1.4);
\Tt[fs=18.5,bd]{5224}{3213}{Unable to process request}
\Tt[fs=14,gy]{5224}{3246}{Sorry, we couldn't process your order. Please}
\Tt[fs=14,gy]{5222}{3270}{try again.}
\Tt[fs=14,gy]{5224}{3305}{You can also contact us at \textcolor{tealc}{1300 655 101} or}
\Tt[fs=14,gy]{5224}{3330}{send a secure message and we'll get back to}
\Tt[fs=14,gy]{5224}{3354}{you.}
\OBtn{5039}{3532}{5408}{3587}{27pt}{Send a secure message}
\Btn{5039}{3599}{5408}{3655}{Try again}
\node[tapr] (tapTry) at (5232,3626) {};
\Home{5154}{5293}{3674}
% ---- connectors
\coordinate (inNF) at (1436,673);
\coordinate (via1) at (1121,673);
\draw[conn] (tapInv.east) -| (via1) -- (inNF);
\coordinate (via2) at (1121,1148);
\coordinate (via3) at (1121,1000);
\draw[connp] (tapO.south) |- (via2) -- (via3);
\coordinate (v3a) at (1100,1206);
\coordinate (v3b) at (1100,2477);
\coordinate (v3c) at (2452,2477);
\coordinate (v3d) at (2452,2110);
\coordinate (inRO) at (2974,2110);
\draw[conn] (tapA.south) |- (v3a) -- (v3b) -- (v3c) -- (v3d) -- (inRO);
\coordinate (inNIE) at (1640,1414);
\draw[conn] (tapNF.south) -- (inNIE);
\coordinate (v5) at (1977,673);
\draw[dconn,shorten <=5pt,shorten >=4pt] (tap3a.east) -| (v5) -- (dia1.west);
\coordinate (v6) at (1977,862);
\draw[dconnp,shorten <=5pt] (tap3b.east) -| (v6);
\coordinate (inF) at (2625,673);
\draw[dconn,shorten <=5pt] (dia1.east) -- (inF);
\coordinate (v8) at (4075,1203);
\coordinate (inErr) at (4075,1148);
\draw[rconn,shorten <=4pt] (dia1.south) |- (v8) -- (inErr);
\coordinate (v4) at (3180,773);
\coordinate (inRev) at (3180,1621);
\draw[conn] (tapF.east) -| (v4) -- (inRev);
\coordinate (v9) at (3615,2064);
\coordinate (inProc) at (3913,2064);
\draw[conn,shorten <=2pt] (tapL.east) -| (v9) -- (inProc);
\coordinate (v10) at (3504,3246);
\coordinate (inEt) at (3913,3246);
\draw[conn,shorten <=5pt] (tapW.east) -| (v10) -- (inEt);
\coordinate (v11) at (3575,2110);
\coordinate (inBack) at (3386,2110);
\draw[conn,shorten <=5pt] (tapX.west) -| (v11) -- (inBack);
\coordinate (v12) at (3180,3736);
\coordinate (inTry) at (3180,2599);
\draw[conn,shorten <=5pt] (tapTry.south) |- (v12) -- (inTry);
\draw[conn,shorten >=4pt] (procOut) -- (dia2.west);
\coordinate (inConf) at (5018,2064);
\draw[dconn,shorten <=35pt] (dia2.east) -- (inConf);
\coordinate (v15a) at (4793,2646);
\coordinate (v15b) at (5224,2646);
\coordinate (inUn) at (5224,2803);
\draw[rconn,shorten <=4pt] (dia2.east) -| (v15a) -- (v15b) -- (inUn);
% headers over connectors
\Hdr{1441}{1303}{1841}{1378}{Invest - Not input error}
\Hdr{5023}{2695}{5424}{2768}{Unable to process request}
% labels
\Tt[fs=14,md,lab]{1977}{761}{Amount entered}
\Tt[fs=14,md,lab]{1977}{1352}{Amount entered}
\Tt[fs=20,md,lab]{2490}{673}{Yes}
\Tt[fs=15,md,lab,text=dred]{3154}{1203}{No}
\Tt[fs=19,md,lab]{3575}{2501}{Back}
\Tt[fs=20,md,lab]{4884}{2064}{Yes}
\Tt[fs=15,md,lab,text=dred]{4793}{2356}{No}
\end{tikzpicture}
\end{document}
